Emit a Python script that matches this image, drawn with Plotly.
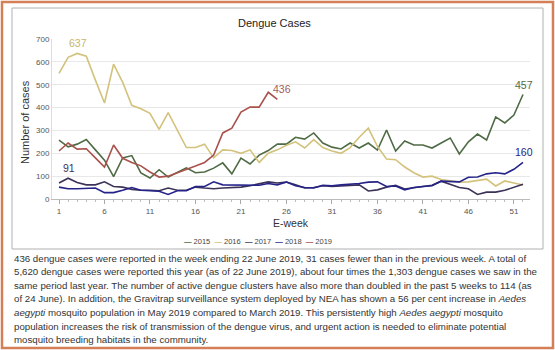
import plotly.graph_objects as go

weeks = list(range(1, 53))
cases_2015 = [258, 228, 240, 260, 215, 170, 98, 180, 190, 114, 92, 128, 96, 115, 136, 115, 118, 135, 158, 110,
              179, 153, 192, 212, 240, 240, 270, 262, 289, 245, 227, 219, 245, 223, 245, 214, 302, 210, 254, 236,
              236, 223, 245, 267, 197, 250, 284, 258, 359, 333, 367, 457]
cases_2016 = [550, 620, 637, 625, 520, 420, 590, 510, 410, 395, 375, 305, 378, 300, 225, 225, 240, 180, 215, 212,
              200, 215, 160, 200, 215, 235, 250, 223, 260, 225, 210, 200, 225, 270, 310, 230, 175, 172, 140, 115,
              96, 100, 85, 80, 74, 75, 80, 87, 57, 79, 70, 61]
cases_2017 = [70, 91, 72, 62, 62, 75, 55, 52, 42, 38, 38, 36, 48, 38, 38, 52, 48, 45, 48, 50,
              52, 58, 68, 75, 70, 74, 62, 48, 50, 58, 55, 58, 60, 62, 35, 40, 52, 60, 44, 50,
              55, 60, 78, 65, 50, 45, 20, 30, 30, 38, 50, 65]
cases_2018 = [52, 45, 45, 48, 48, 28, 28, 38, 50, 38, 36, 34, 20, 36, 36, 55, 55, 75, 62, 62,
              62, 62, 60, 68, 62, 74, 58, 50, 48, 60, 58, 62, 64, 68, 74, 75, 55, 57, 40, 50,
              55, 58, 78, 75, 75, 95, 96, 110, 115, 110, 130, 160]
cases_2019 = [210, 245, 218, 220, 180, 140, 236, 178, 160, 145, 118, 96, 100, 114, 131, 144, 160, 192, 289, 310,
              380, 402, 402, 467, 436]

years = ["2015", "2016", "2017", "2018", "2019"]
series = [cases_2015, cases_2016, cases_2017, cases_2018, cases_2019]
colors = ["#4f6b45", "#d3c27c", "#3d3358", "#25238a", "#a9524d"]

x_ticks = [1, 6, 11, 16, 21, 26, 31, 36, 41, 46, 51]
y_ticks = [0, 100, 200, 300, 400, 500, 600, 700]

# labelled points: (series index, week, text colour)
labels = [(1, 3, "#c9b56a"), (2, 2, "#3d3358"), (4, 25, "#a35a5a"), (0, 52, "#4f6b45"), (3, 52, "#25238a")]

paragraph_lines = [
    "436 dengue cases were reported in the week ending 22 June 2019, 31 cases fewer than in the previous week. A total of",
    "5,620 dengue cases were reported this year (as of 22 June 2019), about four times the 1,303 dengue cases we saw in the",
    "same period last year. The number of active dengue clusters have also more than doubled in the past 5 weeks to 114 (as",
    "of 24 June). In addition, the Gravitrap surveillance system deployed by NEA has shown a 56 per cent increase in <i>Aedes</i>",
    "<i>aegypti</i> mosquito population in May 2019 compared to March 2019. This persistently high <i>Aedes aegypti</i> mosquito",
    "population increases the risk of transmission of the dengue virus, and urgent action is needed to eliminate potential",
    "mosquito breeding habitats in the community.",
]

fig = go.Figure()
for name, vals, col in zip(years, series, colors):
    fig.add_trace(go.Scatter(x=weeks[:len(vals)], y=vals, mode="lines", name=name,
                             line=dict(color=col, width=1.6), showlegend=False))

# plot area in pixels: x 52..530, y 39..199
L, R, T, B = 52, 530, 39, 199
def px(x): return (x - L) / (R - L)
def py(y): return (B - y) / (B - T)

annotations = []
for si, wk, col in labels:
    annotations.append(dict(x=wk, y=series[si][wk - 1], xref="x", yref="y", text=str(series[si][wk - 1]),
                            showarrow=False, yshift=10, xshift=5 if si == 4 else 1,
                            xanchor="center", yanchor="middle",
                            font=dict(size=10.5, color=col)))

annotations += [
    dict(x=px(274), y=py(23), xref="paper", yref="paper", text="Dengue Cases", showarrow=False,
         xanchor="center", yanchor="middle", font=dict(size=11, color="#222")),
    dict(x=px(25), y=py(122), xref="paper", yref="paper", text="Number of cases", showarrow=False,
         xanchor="center", yanchor="middle", textangle=-90, font=dict(size=11, color="#333")),
    dict(x=px(291), y=py(223), xref="paper", yref="paper", text="E-week", showarrow=False,
         xanchor="center", yanchor="middle", font=dict(size=10.5, color="#333")),
    dict(x=px(258), y=py(241), xref="paper", yref="paper", showarrow=False,
         xanchor="center", yanchor="middle",
         text="&nbsp;&nbsp;".join(f"<span style='color:{c}'><b>—</b></span> {y}" for y, c in zip(years, colors)),
         font=dict(size=7.5, color="#444")),
]
for i, line in enumerate(paragraph_lines):
    annotations.append(dict(x=px(12), y=py(258 + i * 13.6), xref="paper", yref="paper",
                            xanchor="left", yanchor="middle", align="left", showarrow=False, text=line,
                            font=dict(size=9.7, color="#333", family="Liberation Sans, Arial")))

shapes = [
    dict(type="rect", xref="paper", yref="paper", x0=px(2), x1=px(553), y0=py(348), y1=py(2),
         line=dict(color="#d47f58", width=2.5), layer="below"),
    dict(type="rect", xref="paper", yref="paper", x0=px(12), x1=px(543), y0=py(249), y1=py(8),
         line=dict(color="#b0b0b0", width=1), layer="below"),
]

fig.update_layout(
    width=555, height=350, autosize=False,
    margin=dict(l=L, r=555 - R, t=T, b=350 - B),
    paper_bgcolor="white", plot_bgcolor="white",
    font=dict(family="Liberation Sans, Arial", color="#444"),
    xaxis=dict(range=[0.23, 52.77], tickvals=x_ticks, ticks="outside", ticklen=4, tickcolor="#aaa",
               showgrid=False, zeroline=False, showline=True, linecolor="#bbb",
               tickfont=dict(size=8, color="#555"),
               minor=dict(dtick=1, tick0=1, ticks="outside", ticklen=2, tickcolor="#bbb")),
    yaxis=dict(range=[0, 700], tickvals=y_ticks, showgrid=True, gridcolor="#e8e8e8", zeroline=False,
               showline=True, linecolor="#ddd", ticks="", tickfont=dict(size=8, color="#555")),
    annotations=annotations, shapes=shapes, showlegend=False,
)

fig.write_html("out.html")
